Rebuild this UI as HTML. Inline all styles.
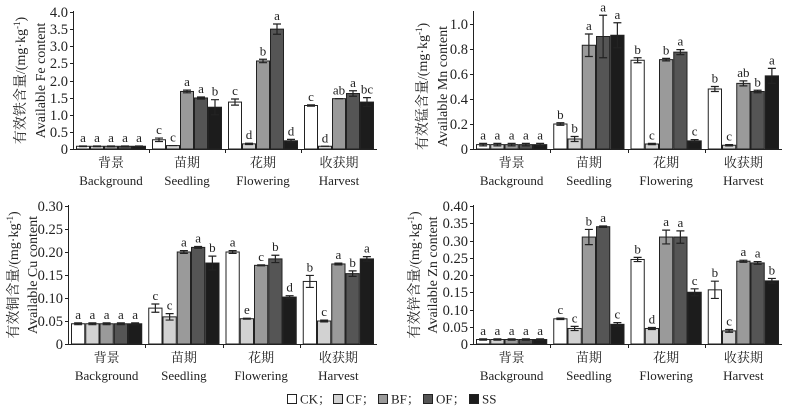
<!DOCTYPE html>
<html><head><meta charset="utf-8">
<style>
html,body{margin:0;padding:0;background:#fff;}
svg{display:block;font-family:"Liberation Serif","Noto Serif CJK SC",serif;}
</style></head>
<body>
<svg id="chart" width="787" height="410" viewBox="0 0 787 410" xmlns="http://www.w3.org/2000/svg">
<g id="legend" font-size="13" fill="#222">
  <g><rect x="287.5" y="394.5" width="9" height="9" fill="#fff" stroke="#222"/><text x="300" y="403.5">CK；</text></g>
  <g><rect x="333.5" y="394.5" width="9" height="9" fill="#d2d2d2" stroke="#222"/><text x="346" y="403.5">CF；</text></g>
  <g><rect x="378.5" y="394.5" width="9" height="9" fill="#9a9a9a" stroke="#222"/><text x="391" y="403.5">BF；</text></g>
  <g><rect x="423.5" y="394.5" width="9" height="9" fill="#555" stroke="#222"/><text x="436" y="403.5">OF；</text></g>
  <g><rect x="469.5" y="394.5" width="9" height="9" fill="#1c1c1c" stroke="#222"/><text x="482" y="403.5">SS</text></g>
</g>
</svg>
<script>
const categoriesCn = ["背景","苗期","花期","收获期"];
const categoriesEn = ["Background","Seedling","Flowering","Harvest"];
const seriesNames = ["CK","CF","BF","OF","SS"];

const feValues = [[0.08,0.08,0.08,0.08,0.08],[0.27,0.10,1.68,1.49,1.22],[1.37,0.15,2.57,3.50,0.24],[1.27,0.08,1.47,1.62,1.37]];
const feErrors = [[0.01,0.01,0.01,0.01,0.01],[0.05,0,0.04,0.03,0.22],[0.09,0.02,0.05,0.15,0.04],[0.02,0,0,0.08,0.13]];
const feLetters = [["a","a","a","a","a"],["c","c","a","a","b"],["c","d","b","a","d"],["c","d","ab","a","bc"]];
const feTicks = ["0","0.5","1.0","1.5","2.0","2.5","3.0","3.5","4.0"];

const mnValues = [[0.035,0.035,0.035,0.035,0.035],[0.20,0.08,0.83,0.90,0.91],[0.71,0.04,0.715,0.775,0.065],[0.48,0.03,0.525,0.46,0.585]];
const mnErrors = [[0.01,0.01,0.01,0.01,0.01],[0.01,0.02,0.09,0.17,0.10],[0.02,0.005,0.01,0.02,0.01],[0.02,0.005,0.02,0.01,0.06]];
const mnLetters = [["a","a","a","a","a"],["b","b","a","a","a"],["b","c","b","a","c"],["b","c","ab","b","a"]];
const mnTicks = ["0","0.2","0.4","0.6","0.8","1.0"];

const cuValues = [[0.044,0.044,0.044,0.044,0.044],[0.078,0.059,0.200,0.210,0.176],[0.200,0.055,0.171,0.185,0.102],[0.136,0.050,0.174,0.153,0.185]];
const cuErrors = [[0.002,0.002,0.002,0.002,0.002],[0.009,0.007,0.003,0.002,0.015],[0.003,0.001,0.001,0.008,0.003],[0.013,0.002,0.002,0.006,0.005]];
const cuLetters = [["a","a","a","a","a"],["c","c","a","a","b"],["a","e","c","b","d"],["b","c","a","b","a"]];
const cuTicks = ["0","0.05","0.10","0.15","0.20","0.25","0.30"];

const znValues = [[0.013,0.013,0.013,0.013,0.013],[0.073,0.045,0.310,0.340,0.057],[0.245,0.045,0.310,0.310,0.150],[0.157,0.038,0.240,0.235,0.183]];
const znErrors = [[0.002,0.002,0.002,0.002,0.002],[0.002,0.006,0.022,0.002,0.005],[0.006,0.003,0.020,0.018,0.010],[0.025,0.004,0.003,0.004,0.007]];
const znLetters = [["a","a","a","a","a"],["c","c","b","a","c"],["b","d","a","a","c"],["b","c","a","a","b"]];
const znTicks = ["0","0.05","0.10","0.15","0.20","0.25","0.30","0.35","0.40"];

const colors = ["#fff","#d2d2d2","#9a9a9a","#555","#1c1c1c"];
const NS = "http://www.w3.org/2000/svg";
const svg = document.getElementById("chart");

function mk(tag, attrs, parent, text) {
  const e = document.createElementNS(NS, tag);
  for (const k in attrs) e.setAttribute(k, attrs[k]);
  if (text !== undefined) e.textContent = text;
  parent.appendChild(e);
  return e;
}

function drawPanel(p) {
  const g = mk("g", {}, svg);
  
  
  const y = v => p.y0 - (v / p.max) * (p.y0 - p.yTop);
  const gw = (p.x1 - p.x0) / 4;
  const bw = (gw - 6) / 5;
  const bx = (ci, si) => p.x0 + ci * gw + 3 + si * bw;
  const ax = mk("line", {x1:p.x0+.5,y1:p.axTop,x2:p.x0+.5,y2:p.y0+.5,stroke:"#222","stroke-width":1}, g);
  
  
  const xa = mk("line", {x1:p.x0,y1:p.y0+.5,x2:p.x1,y2:p.y0+.5,stroke:"#222","stroke-width":1}, g);
  
  
  p.ticks.forEach(t => {
    const ty = Math.round(y(parseFloat(t))) + .5;
    mk("line", {x1:p.x0-3,y1:ty,x2:p.x0,y2:ty,stroke:"#222"}, g);
    const tl = mk("text", {x:p.x0-5,y:ty+4.5,"text-anchor":"end","font-size":14.5,fill:"#222"}, g, t);
    
    
  });
  for (let c = 1; c <= 3; c++) {
    const sx = Math.round(p.x0 + c * gw) + .5;
    mk("line", {x1:sx,y1:p.y0,x2:sx,y2:p.y0+4,stroke:"#222"}, g);
  }
  categoriesCn.forEach((cn, c) => {
    const cx = p.x0 + (c + .5) * gw;
    const t1 = mk("text", {x:cx,y:p.y0+18,"text-anchor":"middle","font-size":13,fill:"#222"}, g, cn);
    
    
    const t2 = mk("text", {x:cx,y:p.y0+36,"text-anchor":"middle","font-size":13,fill:"#222"}, g, categoriesEn[c]);
    
    
  });
  p.values.forEach((row, c) => {
    row.forEach((v, s) => {
      const x = bx(c, s);
      const top = y(v);
      const r = mk("rect", {x:x+.5,y:top,width:bw-1,height:p.y0-top,fill:colors[s],stroke:"#222","stroke-width":1}, g);
      
      
      const e = p.errors[c][s];
      const cx = x + bw / 2;
      const eTop = y(v + e), eBot = y(v - e);
      const eb = mk("path", {d:`M${cx-4},${eTop}H${cx+4}M${cx},${eTop}V${eBot}M${cx-4},${eBot}H${cx+4}`,stroke:"#222","stroke-width":1.2,fill:"none"}, g);
      
      
      const lt = mk("text", {x:cx,y:eTop-4,"text-anchor":"middle","font-size":13,fill:"#222"}, g, p.letters[c][s]);
      
      
    });
  });
  const yc = (p.yTop + p.y0) / 2;
  const l1 = mk("text", {x:p.lcx,y:yc,"text-anchor":"middle","font-size":14,fill:"#222",transform:`rotate(-90 ${p.lcx} ${yc})`}, g);
  
  
  l1.appendChild(document.createTextNode("有效" + p.cn + "含量/(mg·kg"));
  mk("tspan", {dy:-5,"font-size":9}, l1, "-1");
  mk("tspan", {dy:5}, l1, ")");
  const l2 = mk("text", {x:p.lex,y:yc,"text-anchor":"middle","font-size":14,fill:"#222",transform:`rotate(-90 ${p.lex} ${yc})`}, g, "Available " + p.el + " content");
  
  
}

drawPanel({name:"fe",values:feValues,errors:feErrors,letters:feLetters,ticks:feTicks,max:4.0,x0:73,x1:377,y0:149,yTop:12,axTop:11,lcx:25,lex:45,cn:"铁",el:"Fe"});
drawPanel({name:"mn",values:mnValues,errors:mnErrors,letters:mnLetters,ticks:mnTicks,max:1.0,x0:473,x1:782,y0:149,yTop:24,axTop:11,lcx:427,lex:447,cn:"锰",el:"Mn"});
drawPanel({name:"cu",values:cuValues,errors:cuErrors,letters:cuLetters,ticks:cuTicks,max:0.30,x0:68,x1:377,y0:344,yTop:206,axTop:205,lcx:18,lex:37,cn:"铜",el:"Cu"});
drawPanel({name:"zn",values:znValues,errors:znErrors,letters:znLetters,ticks:znTicks,max:0.40,x0:473,x1:782,y0:344,yTop:206,axTop:205,lcx:419,lex:437,cn:"锌",el:"Zn"});
</script>
</body></html>
